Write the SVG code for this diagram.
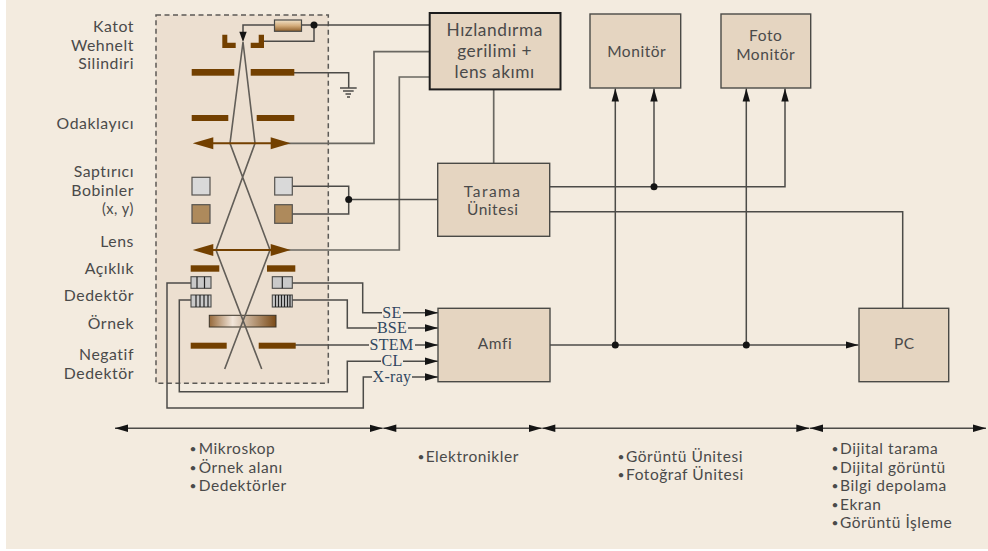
<svg xmlns="http://www.w3.org/2000/svg" width="988" height="551" viewBox="0 0 988 551">
<style>
text{font-family:"Lato","Liberation Sans",sans-serif;font-size:15.5px;fill:#4a4a4a;letter-spacing:.55px}
.l{text-anchor:end;font-size:15.8px}.c{text-anchor:middle}
.b{font-size:17.3px}
.u{font-size:12px}
.s{font-family:"Liberation Serif",serif;font-size:16px;fill:#2f4660;text-anchor:middle;letter-spacing:.3px}
.box{fill:#e5d5c1;stroke:#4a4a46;stroke-width:1.4}
.w{fill:none;stroke:#6a6862;stroke-width:1.7}
.a{fill:none;stroke:#4c4b48;stroke-width:1.5}
.ar{marker-end:url(#ah)}
.dar{marker-start:url(#ahs);marker-end:url(#ah)}
.ray{fill:none;stroke:#625e58;stroke-width:1.6}
.pl{fill:#734000}
.d{fill:#141414}
</style>
<defs>
<marker id="ah" markerUnits="userSpaceOnUse" markerWidth="14" markerHeight="8" refX="13" refY="4" orient="auto"><path d="M0 .3L13 4L0 7.7z" fill="#141414"/></marker>
<marker id="ahs" markerUnits="userSpaceOnUse" markerWidth="14" markerHeight="8" refX="0" refY="4" orient="auto"><path d="M13 .3L0 4L13 7.7z" fill="#141414"/></marker>
<linearGradient id="rg" x1="0" y1="0" x2="0" y2="1"><stop offset="0" stop-color="#f0e2c8"/><stop offset=".5" stop-color="#d4ad7c"/><stop offset="1" stop-color="#8f5f2a"/></linearGradient>
<linearGradient id="sg"><stop offset="0" stop-color="#96693a"/><stop offset=".35" stop-color="#f2e6da"/><stop offset="1" stop-color="#7a4a17"/></linearGradient>
</defs>
<rect x="6" y="0" width="982" height="549" fill="#f3ebdf"/>
<g id="microscope-frame"><rect x="156" y="15" width="172.300" height="368.300" fill="#ecdfd0" stroke="#5c5a56" stroke-width="1.500" stroke-dasharray="5 3.500"/></g>
<g id="connectors">
<path class="a" d="M243 32V25H275M301 25H430M314 25V41.300H264"/>
<path class="a" d="M294 72.700H348.700V88"/>
<path class="w" d="M285 143.300H374V51.700H430"/>
<path class="w" d="M285 250H399.300V77H430"/>
<path class="a" d="M292 186.300H348.700V214H292M348.700 199.500H438"/>
<path class="w" d="M493.700 89.500V163.300"/>
<path class="a ar" d="M550 186.700H785V88.500"/>
<path class="a ar" d="M654 186.700V88.500"/>
<path class="a" d="M550 211.700H902.700V308.300"/>
<path class="a ar" d="M550 345H858.500"/>
<path class="a ar" d="M615.300 345V88.500"/>
<path class="a ar" d="M746.300 345V88.500"/>
<path class="a" d="M292 283H362.700V312.700H382"/>
<path class="a" d="M292 300H347.300V328H377"/>
<path class="a" d="M295 345H369"/>
<path class="a" d="M191 283H167V408H363.300V377H372"/>
<path class="a" d="M191 300H179.300V391.700H347.300V361.300H381"/>
<path class="a ar" d="M403 312.700H438"/><path class="a ar" d="M408 328H438"/><path class="a ar" d="M415 345H438"/><path class="a ar" d="M403 361.300H438"/><path class="a ar" d="M412 377H438"/>
<path class="a dar" d="M115 428.300H382.700"/><path class="a dar" d="M383.300 428.300H541.700"/><path class="a dar" d="M542.300 428.300H809.300"/><path class="a dar" d="M810 428.300H986"/>
<circle class="d" cx="314" cy="25" r="3.500"/><circle class="d" cx="348.700" cy="199.500" r="3.500"/><circle class="d" cx="654" cy="186.700" r="3.500"/><circle class="d" cx="615.300" cy="345" r="3.500"/><circle class="d" cx="746.300" cy="345" r="3.500"/>
</g>
<g id="column">
<path class="a" d="M340 88H356.700M343 91H353.700M345.500 94H351M347 97H350"/>
<rect x="274.500" y="20" width="27" height="11.300" fill="url(#rg)" stroke="#4a4a46" stroke-width="1.200"/>
<path class="d" d="M239.300 31.700H246.700L243 42z"/>
<path class="pl" d="M222.300 34.700H227.300V42.700H235.700V48H222.300zM264 34.700H258.700V42.700H250.700V48H264z"/>
<rect class="pl" x="191.700" y="69" width="42.600" height="6.700"/><rect class="pl" x="250.700" y="69" width="43.600" height="6.700"/>
<rect class="pl" x="191.700" y="115" width="36.600" height="6"/><rect class="pl" x="256.700" y="115" width="37.600" height="6"/>
<rect class="pl" x="190.700" y="265.300" width="28.600" height="6.400"/><rect class="pl" x="267" y="265.300" width="28.300" height="6.400"/>
<rect class="pl" x="190.700" y="342.700" width="36" height="6"/><rect class="pl" x="258.700" y="342.700" width="37" height="6"/>
<rect x="192" y="177.300" width="18" height="17.700" fill="#d9d9d9" stroke="#55534f" stroke-width="1.200"/><rect x="274.700" y="177.300" width="17.600" height="17.700" fill="#d9d9d9" stroke="#55534f" stroke-width="1.200"/>
<rect x="192" y="204.700" width="18" height="18.600" fill="#ae8a5c" stroke="#55534f" stroke-width="1.200"/><rect x="274.700" y="204.700" width="17.600" height="18.600" fill="#ae8a5c" stroke="#55534f" stroke-width="1.200"/>
<g fill="#c9c9c9" stroke="#4a4a48" stroke-width="1.100">
<rect x="191" y="276.700" width="20" height="11.600"/><rect x="272.300" y="276.700" width="20" height="11.600"/>
<rect x="191" y="295" width="20" height="12"/><rect x="272.300" y="295" width="20" height="12"/>
</g>
<path stroke="#222" stroke-width="1.200" fill="none" d="M197 276.700V288.300M204.500 276.700V288.300M282.300 276.700V288.300M196 295V307M200 295V307M204 295V307M208 295V307M275.500 295V307M278.500 295V307M281.500 295V307M284.500 295V307M287.500 295V307M290 295V307"/>
<rect x="209.300" y="315.300" width="66.700" height="11.700" fill="url(#sg)" stroke="#3a3428" stroke-width="1"/>
<path class="ray" d="M243 42L230 143.300L270 250L224.700 369M243 42L255 143.300L216 250L261.700 369"/>
<path fill="#734000" d="M192.700 143.300L213.300 137.300V142.300H270.700V137.300L290.700 143.300L270.700 149.300V144.300H213.300V149.300z"/>
<path fill="#734000" d="M192.700 250L213.300 244V249H270.700V244L290.700 250L270.700 256V251H213.300V256z"/>
</g>
<g id="signal-labels">
<text class="s" x="392" y="318">SE</text><text class="s" x="392" y="333.300">BSE</text><text class="s" x="391.500" y="350">STEM</text><text class="s" x="392" y="366">CL</text><text class="s" x="392" y="381.700">X-ray</text>
</g>
<g id="left-labels">
<text class="l" x="134" y="32">Katot</text><text class="l" x="134" y="51">Wehnelt</text><text class="l" x="134" y="69">Silindiri</text>
<text class="l" x="134" y="129">Odaklayıcı</text>
<text class="l" x="134" y="177">Saptırıcı</text><text class="l" x="134" y="195.500">Bobinler</text><text class="l" x="134" y="214" style="font-size:14.5px">(x, y)</text>
<text class="l" x="134" y="247">Lens</text><text class="l" x="134" y="274">Açıklık</text><text class="l" x="134" y="301">Dedektör</text><text class="l" x="134" y="328.500">Örnek</text>
<text class="l" x="134" y="360">Negatif</text><text class="l" x="134" y="379">Dedektör</text>
</g>
<g id="hizlandirma"><rect class="box" x="429.700" y="13" width="130.800" height="76.400" style="stroke:#1c1c1c;stroke-width:2"/>
<text class="c b" x="494.700" y="36">Hızlandırma</text><text class="c b" x="494.700" y="57">gerilimi +</text><text class="c b" x="494.700" y="78">lens akımı</text></g>
<g id="monitor"><rect class="box" x="590" y="14" width="90.700" height="74"/><text class="c" x="636.700" y="57">Monitör</text></g>
<g id="foto-monitor"><rect class="box" x="721" y="14" width="89.700" height="74"/><text class="c" x="765.700" y="41">Foto</text><text class="c" x="765.700" y="60">Monitör</text></g>
<g id="tarama"><rect class="box" x="437.700" y="163.300" width="112" height="73"/><text class="c" x="492.700" y="196.700" style="letter-spacing:1.5px">Tarama</text><text class="c" x="492.700" y="215">Ünitesi</text></g>
<g id="amfi"><rect class="box" x="438" y="308.300" width="112" height="73.400"/><text class="c" x="495" y="349">Amfi</text></g>
<g id="pc"><rect class="box" x="859" y="308.300" width="89.700" height="73.400"/><text class="c" x="904.300" y="349.300">PC</text></g>
<g id="notes">
<text y="454"><tspan class="u" x="189.500" dy="-1">•</tspan><tspan x="198.700" dy="1">Mikroskop</tspan></text><text y="472.700"><tspan class="u" x="189.500" dy="-1">•</tspan><tspan x="198.700" dy="1">Örnek alanı</tspan></text><text y="491"><tspan class="u" x="189.500" dy="-1">•</tspan><tspan x="198.700" dy="1">Dedektörler</tspan></text>
<text y="461.700"><tspan class="u" x="417.500" dy="-1">•</tspan><tspan x="425.700" dy="1">Elektronikler</tspan></text>
<text y="461.700"><tspan class="u" x="617.500" dy="-1">•</tspan><tspan x="626" dy="1">Görüntü Ünitesi</tspan></text><text y="480"><tspan class="u" x="617.500" dy="-1">•</tspan><tspan x="626" dy="1">Fotoğraf Ünitesi</tspan></text>
<text y="454"><tspan class="u" x="831.500" dy="-1">•</tspan><tspan x="840" dy="1">Dijital tarama</tspan></text><text y="472.600"><tspan class="u" x="831.500" dy="-1">•</tspan><tspan x="840" dy="1">Dijital görüntü</tspan></text><text y="491"><tspan class="u" x="831.500" dy="-1">•</tspan><tspan x="840" dy="1">Bilgi depolama</tspan></text><text y="509.600"><tspan class="u" x="831.500" dy="-1">•</tspan><tspan x="840" dy="1">Ekran</tspan></text><text y="528"><tspan class="u" x="831.500" dy="-1">•</tspan><tspan x="840" dy="1">Görüntü İşleme</tspan></text>
</g>
</svg>
